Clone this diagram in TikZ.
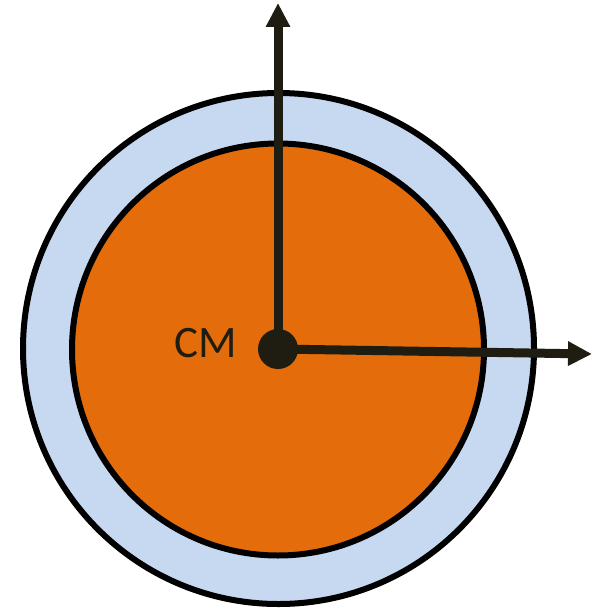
\documentclass[tikz,border=0pt]{standalone}
\usepackage{fontspec}
\setmainfont{Carlito}
\usetikzlibrary{arrows.meta}
\definecolor{ringblue}{HTML}{C6D9F1}
\definecolor{coreorange}{HTML}{E46C0A}
\definecolor{axisdark}{HTML}{1F1D12}
\tikzset{
  ring/.style={draw=black, line width=6pt},
  axisarrow/.style={draw=axisdark, line width=9pt, -{Triangle[length=24pt,width=23pt]}},
}
\begin{document}
\begin{tikzpicture}[x=1pt,y=-1pt]
\useasboundingbox (0,0) rectangle (596,610);
\fill[white] (0,0) rectangle (596,610);
\draw[ring, fill=ringblue] (278.5,348.5) circle (255.5);
\draw[ring, fill=coreorange] (278,349.5) circle (206);
\coordinate (origin) at (278,349);
\coordinate (ytip) at (278,3);
\coordinate (xtip) at (592,354);
\draw[axisarrow] (origin) -- (ytip);
\draw[axisarrow] (origin) -- (xtip);
\node[circle, fill=axisdark, minimum size=40pt, inner sep=0pt] (cm) at (origin) {};
\node[font=\fontsize{45}{45}\selectfont, text=axisdark, anchor=base east, inner sep=0pt] (lbl) at (237,357) {CM};
\end{tikzpicture}
\end{document}
